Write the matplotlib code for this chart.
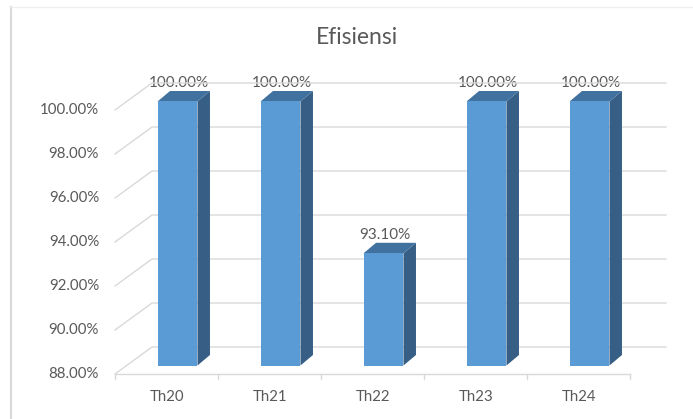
import matplotlib
matplotlib.use("Agg")
import matplotlib.pyplot as plt
from matplotlib.patches import Polygon
from matplotlib.lines import Line2D
from matplotlib.transforms import IdentityTransform, ScaledTranslation
import numpy as np

# ---- data ----
categories = ["Th20", "Th21", "Th22", "Th23", "Th24"]
values = [100.00, 100.00, 93.10, 100.00, 100.00]
yticks = [88, 90, 92, 94, 96, 98, 100]
title = "Efisiensi"

# ---- style ----
FRONT = "#5B9BD5"
TOP = "#41729F"
SIDE = "#375F86"
GRID = "#D9D9D9"
TXT = "#595959"
FONT = ["Lato", "DejaVu Sans"]

W, H, DPI = 693, 419, 100
fig = plt.figure(figsize=(W / DPI, H / DPI), dpi=DPI)
fig.patch.set_facecolor("white")

# front plane of the plot area (pixel geometry)
x0, x1, yb, yt = 115, 630, 374, 110
ax = fig.add_axes([x0 / W, (H - yb) / H, (x1 - x0) / W, (yb - yt) / H])
ax.set_xlim(-0.5, len(categories) - 0.5)
ax.set_ylim(yticks[0], yticks[-1])
ax.axis("off")

ident = IdentityTransform()


def P(x, y, dx=0.0, dy=0.0):
    px, py = ax.transData.transform((x, y))
    return (px + dx, py + dy)


def off(dx, dy):
    return ax.transData + ScaledTranslation(dx / DPI, dy / DPI, fig.dpi_scale_trans)


WALL_DX, WALL_DY = 37, 27
xl, xr = -0.5, len(categories) - 0.5

# back wall gridlines + left wall diagonals
for t in yticks:
    a = P(xl, t)
    b = P(xl, t, WALL_DX, WALL_DY)
    c = P(xr, t, WALL_DX - 1, WALL_DY)
    fig.add_artist(Line2D([a[0], b[0], c[0]], [a[1], b[1], c[1]], transform=ident,
                          color=GRID, lw=1.0, zorder=1))

# floor front edge + category ticks
a = P(xl, yticks[0])
c = P(xr, yticks[0])
fig.add_artist(Line2D([a[0], c[0]], [a[1], c[1]], transform=ident, color=GRID, lw=1.0, zorder=1))
for k in range(len(categories) + 1):
    p = P(k - 0.5, yticks[0])
    fig.add_artist(Line2D([p[0], p[0]], [p[1], p[1] - 5], transform=ident, color=GRID, lw=1.0, zorder=1))

# 3D bars
HALF = 0.194
FDX, FDY = 11, 8.5       # front face offset from front plane
DDX, DDY = 12.5, 10.5    # bar depth
base = yticks[0]
for i, v in enumerate(values):
    fl = P(i - HALF, base, FDX, FDY)
    fr = P(i + HALF, base, FDX, FDY)
    tl = P(i - HALF, v, FDX, FDY)
    tr = P(i + HALF, v, FDX, FDY)
    # side face
    side = [fr, tr, (tr[0] + DDX, tr[1] + DDY), (fr[0] + DDX, fr[1] + DDY)]
    fig.add_artist(Polygon(side, closed=True, transform=ident, facecolor=SIDE, edgecolor="none", zorder=3))
    # top face
    top = [tl, tr, (tr[0] + DDX, tr[1] + DDY), (tl[0] + DDX, tl[1] + DDY)]
    fig.add_artist(Polygon(top, closed=True, transform=ident, facecolor=TOP, edgecolor="none", zorder=3))
    # front face
    front = [fl, fr, tr, tl]
    fig.add_artist(Polygon(front, closed=True, transform=ident, facecolor=FRONT, edgecolor="none", zorder=4))
    # value label
    ax.text(i, v, f"{v:.2f}%", transform=off(12.5, 27), ha="center", va="center",
            fontsize=11, color=TXT, family=FONT, zorder=6, clip_on=False)

# y tick labels
for t in yticks:
    ax.text(xl, t, f"{t:.2f}%", transform=off(-16, 0), ha="right", va="center",
            fontsize=10.8, color=TXT, family=FONT, clip_on=False)

# x labels
for i, cat in enumerate(categories):
    ax.text(i, base, cat, transform=off(1, -23), ha="center", va="center",
            fontsize=10.8, color=TXT, family=FONT, clip_on=False)

# title
fig.text(357 / W, (H - 38) / H, title, ha="center", va="center", fontsize=16.5,
         color=TXT, family=FONT)

# chart border (left + top)
fig.add_artist(Line2D([11, 11], [0, H - 7], transform=ident, color="#D9D9D9", lw=1.5))
fig.add_artist(Line2D([11, W], [H - 7, H - 7], transform=ident, color="#F0F0F0", lw=1.0))

fig.savefig("out.png", dpi=DPI, facecolor="white")
